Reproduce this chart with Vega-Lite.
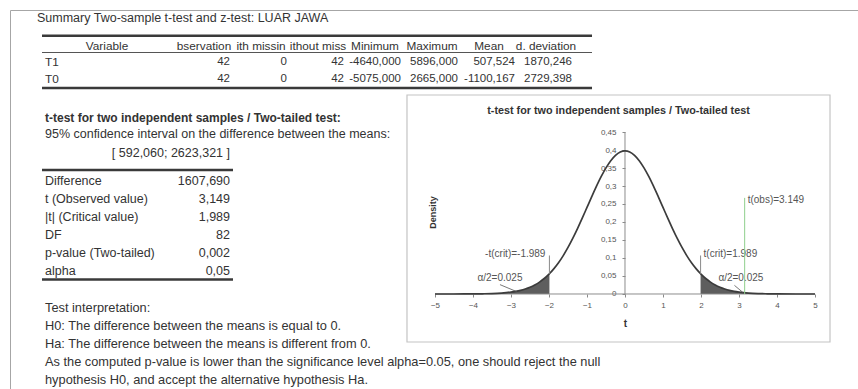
{
  "$schema": "https://vega.github.io/schema/vega-lite/v6.json",
  "width": 848,
  "height": 379,
  "autosize": {"type": "none"},
  "padding": {"left": 10, "top": 10, "right": 0, "bottom": 0},
  "background": "white",
  "config": {
    "view": {"stroke": "#a6a6a6", "strokeWidth": 1},
    "text": {"font": "Liberation Sans", "fontSize": 12.5, "fill": "#333333", "baseline": "middle"},
    "axis": {"labelFont": "Liberation Sans", "titleFont": "Liberation Sans", "labelColor": "#555555", "titleColor": "#333333", "tickColor": "#8a8a8a", "zindex": 1}
  },
  "data": {"values": [{}]},
  "datasets": {
    "summary": [
      {"row": 0, "col": 0, "cell": "Variable"},
      {"row": 0, "col": 1, "cell": "bservation"},
      {"row": 0, "col": 2, "cell": "ith missin"},
      {"row": 0, "col": 3, "cell": "ithout miss"},
      {"row": 0, "col": 4, "cell": "Minimum"},
      {"row": 0, "col": 5, "cell": "Maximum"},
      {"row": 0, "col": 6, "cell": "Mean"},
      {"row": 0, "col": 7, "cell": "d. deviation"},
      {"row": 1, "col": 0, "cell": "T1"},
      {"row": 1, "col": 1, "cell": "42"},
      {"row": 1, "col": 2, "cell": "0"},
      {"row": 1, "col": 3, "cell": "42"},
      {"row": 1, "col": 4, "cell": "-4640,000"},
      {"row": 1, "col": 5, "cell": "5896,000"},
      {"row": 1, "col": 6, "cell": "507,524"},
      {"row": 1, "col": 7, "cell": "1870,246"},
      {"row": 2, "col": 0, "cell": "T0"},
      {"row": 2, "col": 1, "cell": "42"},
      {"row": 2, "col": 2, "cell": "0"},
      {"row": 2, "col": 3, "cell": "42"},
      {"row": 2, "col": 4, "cell": "-5075,000"},
      {"row": 2, "col": 5, "cell": "2665,000"},
      {"row": 2, "col": 6, "cell": "-1100,167"},
      {"row": 2, "col": 7, "cell": "2729,398"}
    ],
    "ttest": [
      {"row": 0, "label": "Difference", "value": "1607,690"},
      {"row": 1, "label": "t (Observed value)", "value": "3,149"},
      {"row": 2, "label": "|t| (Critical value)", "value": "1,989"},
      {"row": 3, "label": "DF", "value": "82"},
      {"row": 4, "label": "p-value (Two-tailed)", "value": "0,002"},
      {"row": 5, "label": "alpha", "value": "0,05"}
    ],
    "interpretation": [
      {"line": 0, "text": "Test interpretation:"},
      {"line": 1, "text": "H0: The difference between the means is equal to 0."},
      {"line": 2, "text": "Ha: The difference between the means is different from 0."},
      {"line": 3, "text": "As the computed p-value is lower than the significance level alpha=0.05, one should reject the null"},
      {"line": 4, "text": "hypothesis H0, and accept the alternative hypothesis Ha."}
    ],
    "tdist": [
      {"t": -5, "density": 0.00001}, {"t": -4.5, "density": 0.00004}, {"t": -4, "density": 0.0002},
      {"t": -3.75, "density": 0.0006}, {"t": -3.5, "density": 0.0012}, {"t": -3.25, "density": 0.0026},
      {"t": -3, "density": 0.0053}, {"t": -2.875, "density": 0.0074}, {"t": -2.75, "density": 0.0102},
      {"t": -2.625, "density": 0.014}, {"t": -2.5, "density": 0.0189}, {"t": -2.375, "density": 0.0252},
      {"t": -2.25, "density": 0.0331}, {"t": -2.125, "density": 0.043}, {"t": -2, "density": 0.0551},
      {"t": -1.989, "density": 0.0563}, {"t": -1.875, "density": 0.0697}, {"t": -1.75, "density": 0.0868},
      {"t": -1.625, "density": 0.1067}, {"t": -1.5, "density": 0.1293}, {"t": -1.375, "density": 0.1544},
      {"t": -1.25, "density": 0.1817}, {"t": -1.125, "density": 0.2106}, {"t": -1, "density": 0.2405},
      {"t": -0.875, "density": 0.2704}, {"t": -0.75, "density": 0.2995}, {"t": -0.625, "density": 0.3265},
      {"t": -0.5, "density": 0.3505}, {"t": -0.375, "density": 0.3704}, {"t": -0.25, "density": 0.3853},
      {"t": -0.125, "density": 0.3946}, {"t": 0, "density": 0.3977}, {"t": 0.125, "density": 0.3946},
      {"t": 0.25, "density": 0.3853}, {"t": 0.375, "density": 0.3704}, {"t": 0.5, "density": 0.3505},
      {"t": 0.625, "density": 0.3265}, {"t": 0.75, "density": 0.2995}, {"t": 0.875, "density": 0.2704},
      {"t": 1, "density": 0.2405}, {"t": 1.125, "density": 0.2106}, {"t": 1.25, "density": 0.1817},
      {"t": 1.375, "density": 0.1544}, {"t": 1.5, "density": 0.1293}, {"t": 1.625, "density": 0.1067},
      {"t": 1.75, "density": 0.0868}, {"t": 1.875, "density": 0.0697}, {"t": 1.989, "density": 0.0563},
      {"t": 2, "density": 0.0551}, {"t": 2.125, "density": 0.043}, {"t": 2.25, "density": 0.0331},
      {"t": 2.375, "density": 0.0252}, {"t": 2.5, "density": 0.0189}, {"t": 2.625, "density": 0.014},
      {"t": 2.75, "density": 0.0102}, {"t": 2.875, "density": 0.0074}, {"t": 3, "density": 0.0053},
      {"t": 3.25, "density": 0.0026}, {"t": 3.5, "density": 0.0012}, {"t": 3.75, "density": 0.0006},
      {"t": 4, "density": 0.0002}, {"t": 4.5, "density": 0.00004}, {"t": 5, "density": 0.00001}
    ],
    "critical": [
      {"t": -1.989, "density": 0.0563, "label": "-t(crit)=-1.989", "side": "left"},
      {"t": 1.989, "density": 0.0563, "label": "t(crit)=1.989", "side": "right"}
    ],
    "alphaLabels": [
      {"t": -3.29, "density": 0.044, "label": "α/2=0.025", "lt": -3.29, "ld": 0.026, "ct": -2.85, "cd": 0.0066},
      {"t": 3.05, "density": 0.044, "label": "α/2=0.025", "lt": 2.88, "ld": 0.024, "ct": 3.1, "cd": 0.0045}
    ]
  },
  "resolve": {"scale": {"x": "independent", "y": "independent"}, "axis": {"x": "independent", "y": "independent"}},
  "layer": [
    {
      "layer": [
        {
          "data": {"values": [{"label": "Summary Two-sample t-test and z-test: LUAR JAWA"}]},
          "mark": {"type": "text", "align": "left", "fontSize": 12.5},
          "encoding": {
            "x": {"datum": -2.386, "type": "quantitative", "scale": {"domain": [-2.8596, 12.0175], "nice": false, "zero": false}, "axis": null},
            "y": {"datum": -1.7, "type": "quantitative", "scale": {"domain": [-2.1818, 20.7879], "nice": false, "zero": false, "reverse": true}, "axis": null},
            "text": {"field": "label"}
          }
        },
        {
          "mark": {"type": "rule", "stroke": "#3a3a3a", "strokeWidth": 2.5},
          "encoding": {
            "x": {"datum": -2.298, "type": "quantitative", "scale": {"domain": [-2.8596, 12.0175], "nice": false, "zero": false}, "axis": null},
            "x2": {"datum": 7.351},
            "y": {"datum": -0.62, "type": "quantitative", "scale": {"domain": [-2.1818, 20.7879], "nice": false, "zero": false, "reverse": true}, "axis": null}
          }
        },
        {
          "mark": {"type": "rule", "stroke": "#555555", "strokeWidth": 1},
          "encoding": {
            "x": {"datum": -2.298, "type": "quantitative", "scale": {"domain": [-2.8596, 12.0175], "nice": false, "zero": false}, "axis": null},
            "x2": {"datum": 7.351},
            "y": {"datum": 0.394, "type": "quantitative", "scale": {"domain": [-2.1818, 20.7879], "nice": false, "zero": false, "reverse": true}, "axis": null}
          }
        },
        {
          "mark": {"type": "rule", "stroke": "#3a3a3a", "strokeWidth": 2.5},
          "encoding": {
            "x": {"datum": -2.298, "type": "quantitative", "scale": {"domain": [-2.8596, 12.0175], "nice": false, "zero": false}, "axis": null},
            "x2": {"datum": 7.351},
            "y": {"datum": 2.545, "type": "quantitative", "scale": {"domain": [-2.1818, 20.7879], "nice": false, "zero": false, "reverse": true}, "axis": null}
          }
        },
        {
          "data": {"name": "summary"},
          "transform": [{"filter": "datum.row == 0 && datum.col == 0"}],
          "mark": {"type": "text", "align": "center", "fontSize": 11.8},
          "encoding": {
            "x": {"datum": -1.158, "type": "quantitative", "scale": {"domain": [-2.8596, 12.0175], "nice": false, "zero": false}, "axis": null},
            "y": {"field": "row", "type": "quantitative", "scale": {"domain": [-2.1818, 20.7879], "nice": false, "zero": false, "reverse": true}, "axis": null},
            "text": {"field": "cell"}
          }
        },
        {
          "data": {"name": "summary"},
          "transform": [{"filter": "datum.row == 0 && datum.col > 0"}],
          "mark": {"type": "text", "align": "center", "dx": -26, "fontSize": 11.8},
          "encoding": {
            "x": {"field": "col", "type": "quantitative", "scale": {"domain": [-2.8596, 12.0175], "nice": false, "zero": false}, "axis": null},
            "y": {"field": "row", "type": "quantitative", "scale": {"domain": [-2.1818, 20.7879], "nice": false, "zero": false, "reverse": true}, "axis": null},
            "text": {"field": "cell"}
          }
        },
        {
          "data": {"name": "summary"},
          "transform": [{"filter": "datum.row > 0 && datum.col == 0"}],
          "mark": {"type": "text", "align": "left", "fontSize": 11.8},
          "encoding": {
            "x": {"datum": -2.2456, "type": "quantitative", "scale": {"domain": [-2.8596, 12.0175], "nice": false, "zero": false}, "axis": null},
            "y": {"field": "row", "type": "quantitative", "scale": {"domain": [-2.1818, 20.7879], "nice": false, "zero": false, "reverse": true}, "axis": null},
            "text": {"field": "cell"}
          }
        },
        {
          "data": {"name": "summary"},
          "transform": [{"filter": "datum.row > 0 && datum.col > 0"}],
          "mark": {"type": "text", "align": "right", "fontSize": 11.5},
          "encoding": {
            "x": {"field": "col", "type": "quantitative", "scale": {"domain": [-2.8596, 12.0175], "nice": false, "zero": false}, "axis": null},
            "y": {"field": "row", "type": "quantitative", "scale": {"domain": [-2.1818, 20.7879], "nice": false, "zero": false, "reverse": true}, "axis": null},
            "text": {"field": "cell"}
          }
        }
      ]
    },
    {
      "layer": [
        {
          "data": {"values": [{"label": "t-test for two independent samples / Two-tailed test:"}]},
          "mark": {"type": "text", "align": "left", "fontWeight": "bold", "fontSize": 12},
          "encoding": {
            "x": {"datum": 0, "type": "quantitative", "scale": {"domain": [-0.1892, 4.3946], "nice": false, "zero": false}, "axis": null},
            "y": {"datum": -3.5, "type": "quantitative", "scale": {"domain": [-9.5, 11.5556], "nice": false, "zero": false, "reverse": true}, "axis": null},
            "text": {"field": "label"}
          }
        },
        {
          "data": {"values": [{"label": "95% confidence interval on the difference between the means:"}]},
          "mark": {"type": "text", "align": "left"},
          "encoding": {
            "x": {"datum": 0, "type": "quantitative", "scale": {"domain": [-0.1892, 4.3946], "nice": false, "zero": false}, "axis": null},
            "y": {"datum": -2.6, "type": "quantitative", "scale": {"domain": [-9.5, 11.5556], "nice": false, "zero": false, "reverse": true}, "axis": null},
            "text": {"field": "label"}
          }
        },
        {
          "data": {"values": [{"label": "[ 592,060; 2623,321 ]"}]},
          "mark": {"type": "text", "align": "right"},
          "encoding": {
            "x": {"datum": 1, "type": "quantitative", "scale": {"domain": [-0.1892, 4.3946], "nice": false, "zero": false}, "axis": null},
            "y": {"datum": -1.55, "type": "quantitative", "scale": {"domain": [-9.5, 11.5556], "nice": false, "zero": false, "reverse": true}, "axis": null},
            "text": {"field": "label"}
          }
        },
        {
          "mark": {"type": "rule", "stroke": "#3a3a3a", "strokeWidth": 2.5},
          "encoding": {
            "x": {"datum": -0.0162, "type": "quantitative", "scale": {"domain": [-0.1892, 4.3946], "nice": false, "zero": false}, "axis": null},
            "x2": {"datum": 1.0162},
            "y": {"datum": -0.611, "type": "quantitative", "scale": {"domain": [-9.5, 11.5556], "nice": false, "zero": false, "reverse": true}, "axis": null}
          }
        },
        {
          "mark": {"type": "rule", "stroke": "#3a3a3a", "strokeWidth": 2.5},
          "encoding": {
            "x": {"datum": -0.0162, "type": "quantitative", "scale": {"domain": [-0.1892, 4.3946], "nice": false, "zero": false}, "axis": null},
            "x2": {"datum": 1.0162},
            "y": {"datum": 5.47, "type": "quantitative", "scale": {"domain": [-9.5, 11.5556], "nice": false, "zero": false, "reverse": true}, "axis": null}
          }
        },
        {
          "data": {"name": "ttest"},
          "mark": {"type": "text", "align": "left"},
          "encoding": {
            "x": {"datum": 0, "type": "quantitative", "scale": {"domain": [-0.1892, 4.3946], "nice": false, "zero": false}, "axis": null},
            "y": {"field": "row", "type": "quantitative", "scale": {"domain": [-9.5, 11.5556], "nice": false, "zero": false, "reverse": true}, "axis": null},
            "text": {"field": "label"}
          }
        },
        {
          "data": {"name": "ttest"},
          "mark": {"type": "text", "align": "right"},
          "encoding": {
            "x": {"datum": 1, "type": "quantitative", "scale": {"domain": [-0.1892, 4.3946], "nice": false, "zero": false}, "axis": null},
            "y": {"field": "row", "type": "quantitative", "scale": {"domain": [-9.5, 11.5556], "nice": false, "zero": false, "reverse": true}, "axis": null},
            "text": {"field": "value"}
          }
        }
      ]
    },
    {
      "data": {"name": "interpretation"},
      "mark": {"type": "text", "align": "left", "fontSize": 12.8},
      "encoding": {
        "x": {"datum": 0, "type": "quantitative", "scale": {"domain": [-0.1892, 4.3946], "nice": false, "zero": false}, "axis": null},
        "y": {"field": "line", "type": "quantitative", "scale": {"domain": [-16.556, 4.5], "nice": false, "zero": false, "reverse": true}, "axis": null},
        "text": {"field": "text"}
      }
    },
    {
      "layer": [
        {
          "mark": {"type": "rect", "fill": "transparent", "stroke": "#c4c4c4", "strokeWidth": 1.2},
          "encoding": {
            "x": {"datum": -5.737, "type": "quantitative", "scale": {"domain": [-16.184, 6.1316], "nice": false, "zero": false}},
            "x2": {"datum": 5.395},
            "y": {"datum": 0.5528, "type": "quantitative", "scale": {"domain": [-0.26389, 0.78889], "nice": false, "zero": false}},
            "y2": {"datum": -0.1333}
          }
        },
        {
          "data": {"name": "tdist"},
          "transform": [{"filter": "datum.t <= -1.989"}],
          "mark": {"type": "area", "fill": "#5e5e5e", "interpolate": "monotone"},
          "encoding": {
            "x": {"field": "t", "type": "quantitative"},
            "y": {"field": "density", "type": "quantitative"},
            "y2": {"datum": 0}
          }
        },
        {
          "data": {"name": "tdist"},
          "transform": [{"filter": "datum.t >= 1.989"}],
          "mark": {"type": "area", "fill": "#5e5e5e", "interpolate": "monotone"},
          "encoding": {
            "x": {"field": "t", "type": "quantitative"},
            "y": {"field": "density", "type": "quantitative"},
            "y2": {"datum": 0}
          }
        },
        {
          "mark": {"type": "rule", "stroke": "#8c8c8c", "strokeWidth": 1},
          "encoding": {
            "x": {"datum": -5, "type": "quantitative"},
            "x2": {"datum": 5},
            "y": {"datum": 0, "type": "quantitative"}
          }
        },
        {
          "mark": {"type": "rule", "stroke": "#8c8c8c", "strokeWidth": 1},
          "encoding": {
            "x": {"datum": 0, "type": "quantitative"},
            "y": {"datum": 0, "type": "quantitative"},
            "y2": {"datum": 0.45}
          }
        },
        {
          "data": {"name": "tdist"},
          "mark": {"type": "line", "stroke": "#3c3c3c", "strokeWidth": 1.7, "interpolate": "monotone"},
          "encoding": {
            "x": {
              "field": "t", "type": "quantitative",
              "axis": {
                "orient": "bottom", "offset": -95, "values": [-5, -4, -3, -2, -1, 0, 1, 2, 3, 4, 5],
                "domain": false, "grid": false, "ticks": true, "tickSize": 3, "labelFontSize": 8, "labelPadding": 4,
                "title": "t", "titleFontSize": 10, "titleFontWeight": "bold", "titleX": 615, "titleY": 29, "titleBaseline": "middle", "titleAlign": "center"
              }
            },
            "y": {
              "field": "density", "type": "quantitative",
              "axis": {
                "orient": "left", "offset": -615, "values": [0, 0.05, 0.1, 0.15, 0.2, 0.25, 0.3, 0.35, 0.4, 0.45],
                "domain": false, "grid": false, "ticks": true, "tickSize": 3, "labelFontSize": 8, "labelPadding": 6,
                "labelExpr": "replace(format(datum.value, '.2~f'), '.', ',')",
                "title": "Density", "titleFontSize": 9, "titleFontWeight": "bold", "titleAngle": -90,
                "titleX": -193, "titleY": 202, "titleBaseline": "middle", "titleAlign": "center"
              }
            }
          }
        },
        {
          "data": {"name": "critical"},
          "mark": {"type": "rule", "stroke": "#8a8a8a", "strokeWidth": 1},
          "encoding": {
            "x": {"field": "t", "type": "quantitative"},
            "y": {"field": "density", "type": "quantitative"},
            "y2": {"datum": 0.107}
          }
        },
        {
          "data": {"name": "critical"},
          "transform": [{"filter": "datum.side == 'left'"}],
          "mark": {"type": "text", "align": "right", "dx": -4, "fontSize": 10, "fill": "#555555"},
          "encoding": {
            "x": {"field": "t", "type": "quantitative"},
            "y": {"datum": 0.111, "type": "quantitative"},
            "text": {"field": "label"}
          }
        },
        {
          "data": {"name": "critical"},
          "transform": [{"filter": "datum.side == 'right'"}],
          "mark": {"type": "text", "align": "left", "dx": 3, "fontSize": 10, "fill": "#555555"},
          "encoding": {
            "x": {"field": "t", "type": "quantitative"},
            "y": {"datum": 0.111, "type": "quantitative"},
            "text": {"field": "label"}
          }
        },
        {
          "data": {"name": "alphaLabels"},
          "mark": {"type": "text", "align": "center", "fontSize": 10, "fill": "#555555"},
          "encoding": {
            "x": {"field": "t", "type": "quantitative"},
            "y": {"field": "density", "type": "quantitative"},
            "text": {"field": "label"}
          }
        },
        {
          "data": {"name": "alphaLabels"},
          "mark": {"type": "rule", "stroke": "#555555", "strokeWidth": 0.8},
          "encoding": {
            "x": {"field": "lt", "type": "quantitative"},
            "y": {"field": "ld", "type": "quantitative"},
            "x2": {"field": "ct"},
            "y2": {"field": "cd"}
          }
        },
        {
          "data": {"values": [{"t": 3.149, "label": "t(obs)=3.149"}]},
          "mark": {"type": "rule", "stroke": "#8fcf8c", "strokeWidth": 1},
          "encoding": {
            "x": {"field": "t", "type": "quantitative"},
            "y": {"datum": 0, "type": "quantitative"},
            "y2": {"datum": 0.267}
          }
        },
        {
          "data": {"values": [{"t": 3.149, "label": "t(obs)=3.149"}]},
          "mark": {"type": "text", "align": "left", "dx": 3, "fontSize": 10, "fill": "#555555"},
          "encoding": {
            "x": {"field": "t", "type": "quantitative"},
            "y": {"datum": 0.261, "type": "quantitative"},
            "text": {"field": "label"}
          }
        },
        {
          "data": {"values": [{"label": "t-test for two independent samples / Two-tailed test"}]},
          "mark": {"type": "text", "align": "center", "fontSize": 10.8, "fontWeight": "bold", "fill": "#333333"},
          "encoding": {
            "x": {"datum": -0.171, "type": "quantitative"},
            "y": {"datum": 0.5083, "type": "quantitative"},
            "text": {"field": "label"}
          }
        }
      ]
    }
  ]
}
